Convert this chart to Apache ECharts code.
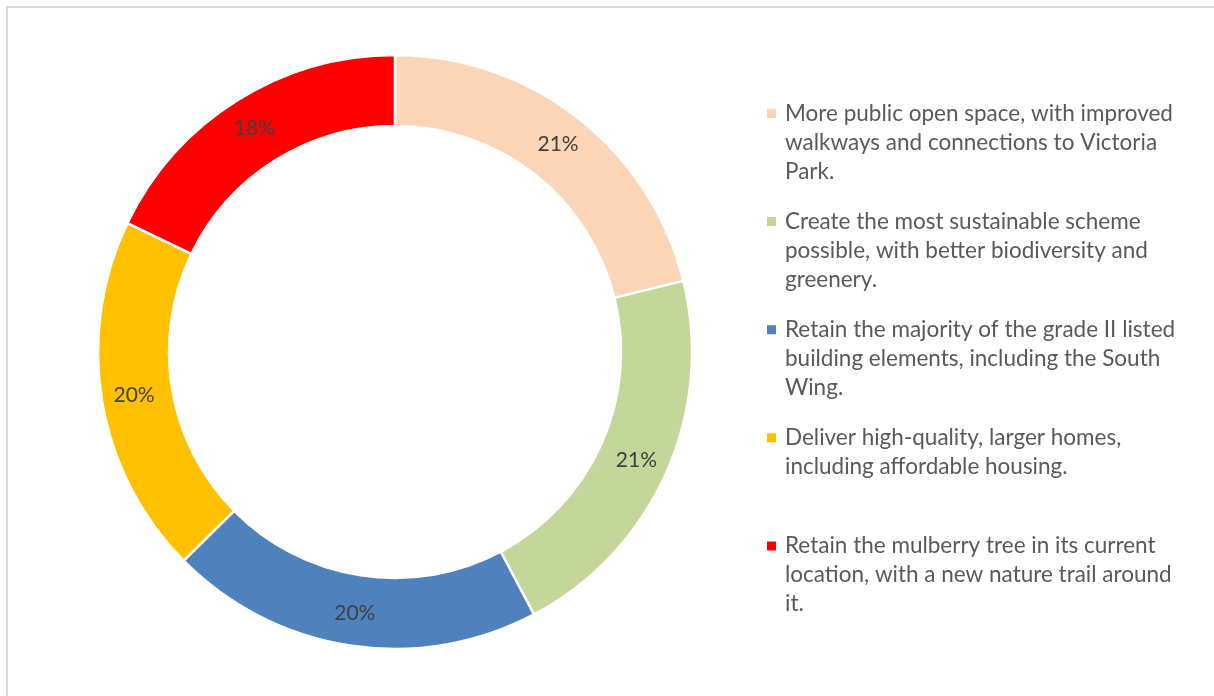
<!DOCTYPE html>
<html>
<head>
<meta charset="utf-8">
<script src="https://cdn.jsdelivr.net/npm/echarts@6/dist/echarts.min.js"></script>
<style>
  html, body { margin: 0; padding: 0; background: #fff; }
  #chart { width: 1214px; height: 696px; }
</style>
</head>
<body>
<div id="chart"></div>
<script>
// categories, wrapped the way the legend shows them
const categories = [
  'More public open space, with improved\nwalkways and connections to Victoria\nPark.',
  'Create the most sustainable scheme\npossible, with better biodiversity and\ngreenery.',
  'Retain the majority of the grade II listed\nbuilding elements, including the South\nWing.',
  'Deliver high-quality, larger homes,\nincluding affordable housing.',
  'Retain the mulberry tree in its current\nlocation, with a new nature trail around\nit.'
];
// share of responses (%)
const shares = [21.15, 21.1, 20.35, 19.55, 17.85];
const sliceColors = ['#FBD5B5', '#C4D79B', '#4F81BD', '#FFC000', '#FF0000'];

const FONT = 'Lato';
const LH = 29;            // legend line height
const firstLineY = 113.5; // centre of the first legend line
const itemStep = 108.1;

const chart = echarts.init(document.getElementById('chart'));

// legend text is centred on its icon, so the icon is a tall path with the
// square at the top: that puts the square next to the first line
function markerIcon(n) {
  const h = 9 + (n - 1) * LH;
  return 'path://M0,0h9v9h-9zM0,' + h + 'h9';
}

// one legend per entry so every entry starts on a fixed step
const legends = categories.map((name, i) => {
  const n = name.split('\n').length;
  return {
    data: [name],
    orient: 'vertical',
    left: 767,
    top: firstLineY + itemStep * i - LH / 2,
    padding: 0,
    icon: markerIcon(n),
    itemWidth: 9,
    itemHeight: 9 + (n - 1) * LH,
    selectedMode: false,
    itemStyle: { borderWidth: 0 },
    textStyle: {
      fontFamily: FONT,
      fontSize: 22.5,
      color: '#595959',
      lineHeight: LH,
      padding: [0, 0, 0, 4]
    }
  };
});

const option = {
  animation: false,
  color: sliceColors,
  graphic: [{
    type: 'rect',
    shape: { x: 7, y: 7, width: 1400, height: 900 },
    style: { fill: 'none', stroke: '#d9d9d9', lineWidth: 2 },
    silent: true
  }],
  legend: legends,
  series: [{
    type: 'pie',
    center: [395, 352],
    radius: [226, 297],
    startAngle: 90,
    clockwise: true,
    avoidLabelOverlap: false,
    itemStyle: { borderColor: '#fff', borderWidth: 2.5 },
    label: {
      show: true,
      position: 'inside',
      fontFamily: FONT,
      fontSize: 21,
      color: '#404040',
      formatter: p => Math.round(p.percent) + '%'
    },
    labelLine: { show: false },
    emphasis: { scale: false },
    data: categories.map((name, i) => ({ name: name, value: shares[i] }))
  }]
};

chart.setOption(option);
</script>
</body>
</html>
